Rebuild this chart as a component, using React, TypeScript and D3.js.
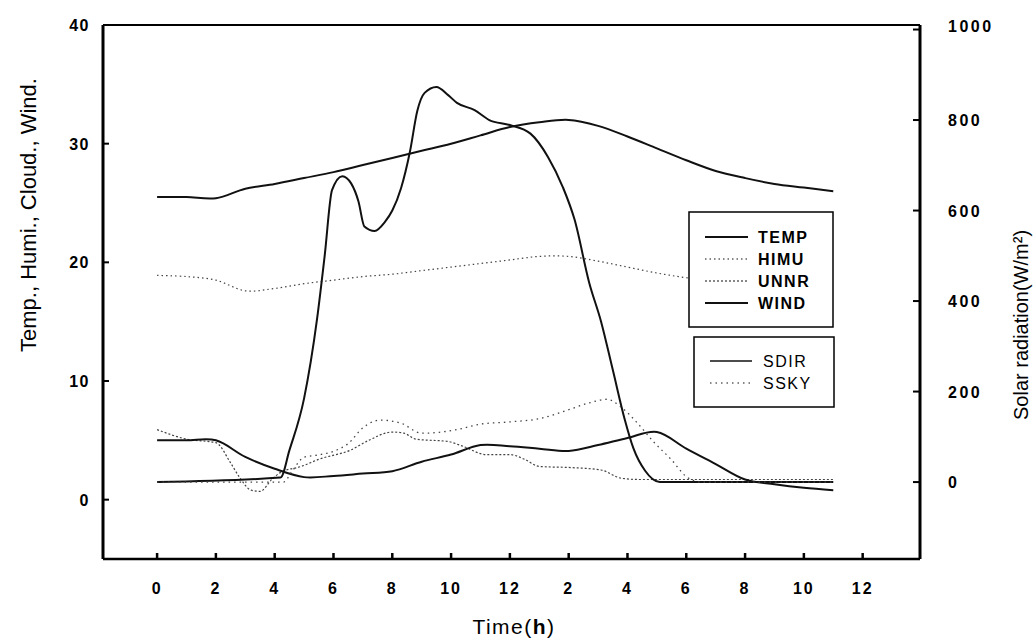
import * as d3 from "d3";

const W = 1033;
const H = 644;
const plot = { left: 103, right: 920, top: 25, bottom: 559 };

// hourly series (left axis)
const hourGrid = [0, 1, 2, 3, 4, 5, 6, 7, 8, 9, 10, 11, 12, 13, 14, 15, 16, 17, 18, 19, 20, 21, 22, 23];
const tempValues = [25.5, 25.5, 25.4, 26.2, 26.6, 27.1, 27.6, 28.2, 28.8, 29.4, 30.0, 30.7, 31.4, 31.8, 32.0, 31.5, 30.6, 29.6, 28.6, 27.7, 27.1, 26.6, 26.3, 26.0];
const himuValues = [18.9, 18.8, 18.5, 17.6, 17.8, 18.2, 18.5, 18.8, 19.0, 19.3, 19.6, 19.9, 20.2, 20.5, 20.5, 20.1, 19.6, 19.1, 18.7, 18.4, 18.2, 18.0, 17.8, 17.7];
const windValues = [5.0, 5.0, 5.0, 3.6, 2.6, 1.9, 2.0, 2.2, 2.4, 3.2, 3.8, 4.6, 4.5, 4.3, 4.1, 4.6, 5.2, 5.7, 4.3, 3.0, 1.7, 1.3, 1.0, 0.8];

const unnrHours = [0, 1.0, 2.0, 2.5, 2.8, 3.2, 3.5, 3.9, 4.2, 4.9, 5.5, 6.6, 7.2, 8.0, 8.4, 8.8, 9.9, 10.4, 11.2, 12.0, 12.5, 13.0, 14.1, 15.1, 15.8, 16.4, 23];
const unnrValues = [5.9, 5.1, 4.8, 3.1, 1.9, 0.8, 0.7, 1.7, 2.3, 2.8, 3.4, 4.2, 5.0, 5.7, 5.6, 5.1, 4.9, 4.5, 3.8, 3.8, 3.4, 2.8, 2.7, 2.5, 1.8, 1.7, 1.7];

// solar radiation (right axis)
const sdirHours = [0, 4.2, 4.5, 5.0, 5.44, 5.7, 5.95, 6.3, 6.6, 6.85, 7.05, 7.4, 7.75, 8.0, 8.3, 8.6, 8.85, 9.1, 9.5, 9.9, 10.2, 10.8, 11.3, 12.0, 12.7, 13.3, 13.8, 14.2, 14.7, 15.1, 15.5, 15.9, 16.2, 16.6, 17.1, 23];
const sdirValues = [0, 10, 70, 185, 360, 500, 645, 676, 660, 620, 565, 555, 575, 600, 650, 730, 820, 860, 873, 855, 838, 822, 800, 789, 770, 718, 652, 580, 440, 355, 248, 140, 75, 25, 0, 0];

const sskyHours = [0, 4.3, 4.6, 5.0, 5.5, 6.0, 6.5, 7.0, 7.6, 8.3, 9.0, 9.6, 10.2, 11.0, 12.0, 13.0, 14.0, 14.7, 15.3, 15.8, 16.3, 16.9, 17.5, 18.0, 18.5, 23];
const sskyValues = [0, 0, 25, 55, 60, 68, 85, 120, 137, 130, 108, 110, 116, 128, 133, 140, 160, 175, 183, 165, 133, 88, 49, 12, 0, 0];

const xTickHours = [0, 2, 4, 6, 8, 10, 12, 14, 16, 18, 20, 22, 24];
const xTickLabels = ["0", "2", "4", "6", "8", "10", "12", "2", "4", "6", "8", "10", "12"];
const leftTicks = [0, 10, 20, 30, 40];
const rightTicks = [0, 200, 400, 600, 800, 1000];

const legendMain = [
  { name: "TEMP", dash: "", width: 2 },
  { name: "HIMU", dash: "1.5 3", width: 1.2 },
  { name: "UNNR", dash: "2 2", width: 1.2 },
  { name: "WIND", dash: "", width: 2 },
];
const legendSolar = [
  { name: "SDIR", dash: "", width: 1.6 },
  { name: "SSKY", dash: "1.5 4", width: 1.2 },
];

const font = "'Liberation Sans', Arial, Helvetica, sans-serif";

export default function App() {
  const x = d3.scaleLinear().domain([-1.84, 25.95]).range([plot.left, plot.right]);
  const yL = d3.scaleLinear().domain([-5, 40]).range([plot.bottom, plot.top]);
  const yR = d3.scaleLinear().domain([-170, 1010]).range([plot.bottom, plot.top]);

  const pathOf = (
    hs: number[],
    vs: number[],
    y: d3.ScaleLinear<number, number>,
    curve: d3.CurveFactory = d3.curveCatmullRom.alpha(0.5)
  ) =>
    d3
      .line<number>()
      .x((_, i) => x(hs[i]))
      .y((v) => y(v))
      .curve(curve)(vs) || "";

  const series = [
    { d: pathOf(hourGrid, tempValues, yL), dash: "", w: 2, c: "#111" },
    { d: pathOf(hourGrid, himuValues, yL), dash: "1.5 3", w: 1.2, c: "#444" },
    { d: pathOf(unnrHours, unnrValues, yL, d3.curveMonotoneX), dash: "2 2", w: 1.2, c: "#444" },
    { d: pathOf(hourGrid, windValues, yL), dash: "", w: 2, c: "#111" },
    { d: pathOf(sdirHours, sdirValues, yR, d3.curveMonotoneX), dash: "", w: 2, c: "#111" },
    { d: pathOf(sskyHours, sskyValues, yR, d3.curveMonotoneX), dash: "1.5 4", w: 1.3, c: "#444" },
  ];

  return (
    <svg
      width={W}
      height={H}
      style={{ position: "absolute", left: 0, top: 0, background: "#fff" }}
      fontFamily={font}
    >
      <rect width={W} height={H} fill="#fff" />

      {series.map((s, i) => (
        <path key={i} d={s.d} fill="none" stroke={s.c} strokeWidth={s.w} strokeDasharray={s.dash || undefined} />
      ))}

      {/* frame */}
      <line x1={plot.left} x2={plot.right} y1={plot.top} y2={plot.top} stroke="#000" strokeWidth={2} />
      <line x1={plot.left} x2={plot.right} y1={plot.bottom} y2={plot.bottom} stroke="#000" strokeWidth={2.5} />
      <line x1={plot.left} x2={plot.left} y1={plot.top} y2={plot.bottom} stroke="#000" strokeWidth={3} />
      <line x1={plot.right} x2={plot.right} y1={plot.top} y2={plot.bottom} stroke="#000" strokeWidth={3} />

      {/* x ticks */}
      {xTickHours.map((h, i) => (
        <g key={h}>
          <line x1={x(h)} x2={x(h)} y1={plot.bottom} y2={plot.bottom - 6} stroke="#000" strokeWidth={2.5} />
          <text x={x(h)} y={594} textAnchor="middle" fontSize={16} fontWeight="bold" letterSpacing={2}>
            {xTickLabels[i]}
          </text>
        </g>
      ))}

      {/* left ticks */}
      {leftTicks.map((t) => (
        <g key={t}>
          <line x1={plot.left} x2={plot.left + 6} y1={yL(t)} y2={yL(t)} stroke="#000" strokeWidth={2} />
          <text x={90} y={yL(t) + 6} textAnchor="end" fontSize={16} fontWeight="bold" letterSpacing={1.5}>
            {t}
          </text>
        </g>
      ))}

      {/* right ticks */}
      {rightTicks.map((t) => (
        <g key={t}>
          <line x1={plot.right} x2={plot.right - 7} y1={yR(t)} y2={yR(t)} stroke="#000" strokeWidth={2} />
          <text x={948} y={yR(t) + (t === 1000 ? 2 : 6)} textAnchor="start" fontSize={16} fontWeight="bold" letterSpacing={2.5}>
            {t}
          </text>
        </g>
      ))}

      {/* axis titles */}
      <text x={514} y={634} textAnchor="middle" fontSize={21} letterSpacing={1.5}>
        Time(<tspan fontWeight="bold">h</tspan>)
      </text>
      <text transform="translate(36,215) rotate(-90)" textAnchor="middle" fontSize={22}>
        Temp., Humi., Cloud., Wind.
      </text>
      <text transform="translate(1028,420) rotate(-90)" textAnchor="start" fontSize={20}>
        Solar radiation(W/m²)
      </text>

      {/* legend 1 */}
      <rect x={689} y={212} width={144} height={115} fill="#fff" stroke="#000" strokeWidth={1.5} />
      {legendMain.map((l, i) => (
        <g key={l.name}>
          <line x1={705} x2={748} y1={237 + i * 22} y2={237 + i * 22} stroke="#111" strokeWidth={l.width} strokeDasharray={l.dash || undefined} />
          <text x={758} y={243 + i * 22} fontSize={16} fontWeight="bold" letterSpacing={1.5}>
            {l.name}
          </text>
        </g>
      ))}

      {/* legend 2 */}
      <rect x={694} y={337} width={140} height={70} fill="#fff" stroke="#000" strokeWidth={1.5} />
      {legendSolar.map((l, i) => (
        <g key={l.name}>
          <line x1={710} x2={752} y1={361 + i * 22} y2={361 + i * 22} stroke="#111" strokeWidth={l.width} strokeDasharray={l.dash || undefined} />
          <text x={763} y={367 + i * 22} fontSize={16} letterSpacing={1.5}>
            {l.name}
          </text>
        </g>
      ))}
    </svg>
  );
}
